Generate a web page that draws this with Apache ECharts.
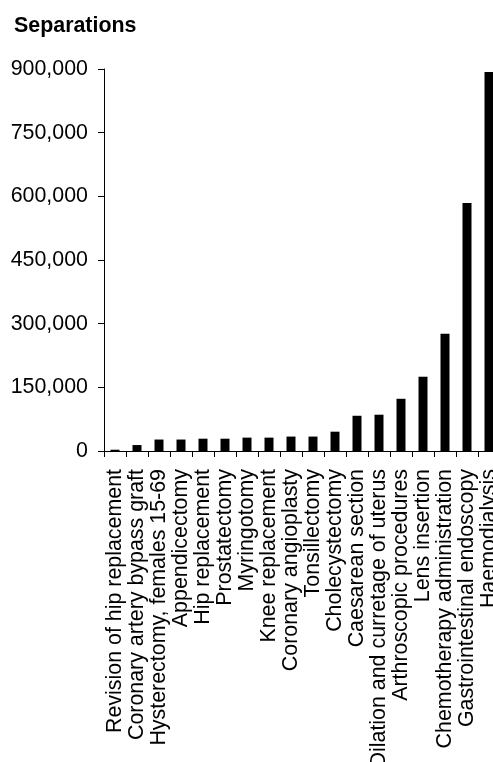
<!DOCTYPE html>
<html>
<head>
<meta charset="utf-8">
<script src="https://cdn.jsdelivr.net/npm/echarts@6/dist/echarts.min.js"></script>
<style>html,body{margin:0;padding:0;background:#fff;overflow:hidden;}#c{width:493px;height:762px;}</style>
</head>
<body>
<div id="c"></div>
<script>
var categories = [
  "Revision of hip replacement",
  "Coronary artery bypass graft",
  "Hysterectomy, females 15-69",
  "Appendicectomy",
  "Hip replacement",
  "Prostatectomy",
  "Myringotomy",
  "Knee replacement",
  "Coronary angioplasty",
  "Tonsillectomy",
  "Cholecystectomy",
  "Caesarean section",
  "Dilation and curretage of uterus",
  "Arthroscopic procedures",
  "Lens insertion",
  "Chemotherapy administration",
  "Gastrointestinal endoscopy",
  "Haemodialysis"
];
var separations = [3000, 14000, 27000, 27000, 29000, 29000, 31500, 31500, 34000, 34000, 45500, 83000, 85500, 123000, 175000, 276000, 584000, 893000];
var yTicks = { min: 0, max: 900000, interval: 150000 };

var chart = echarts.init(document.getElementById('c'));
var font = '"Liberation Sans", Arial, sans-serif';
chart.setOption({
  animation: false,
  title: {
    text: 'Separations',
    left: 9, top: 11,
    textStyle: { fontFamily: font, fontSize: 21.4, fontWeight: 'bold', color: '#000' }
  },
  grid: { left: 104, width: 396, top: 69, bottom: 311, containLabel: false, outerBoundsMode: 'none' },
  xAxis: {
    type: 'category',
    data: categories,
    axisLine: { lineStyle: { color: '#000', width: 1 } },
    axisTick: { show: true, length: 6, lineStyle: { color: '#000' } },
    axisLabel: {
      rotate: 90, interval: 0, margin: 18,
      fontFamily: font, fontSize: 21.4, color: '#000'
    }
  },
  yAxis: {
    type: 'value',
    min: yTicks.min, max: yTicks.max, interval: yTicks.interval,
    axisLine: { show: true, lineStyle: { color: '#000', width: 1 } },
    axisTick: { show: true, length: 6, lineStyle: { color: '#000' } },
    splitLine: { show: false },
    axisLabel: {
      margin: 16, fontFamily: font, fontSize: 21.4, color: '#000',
      formatter: function (v) { return v.toString().replace(/\B(?=(\d{3})+(?!\d))/g, ','); }
    }
  },
  series: [{
    type: 'bar',
    data: separations,
    barWidth: 9,
    itemStyle: { color: '#000' }
  }]
});
</script>
</body>
</html>
